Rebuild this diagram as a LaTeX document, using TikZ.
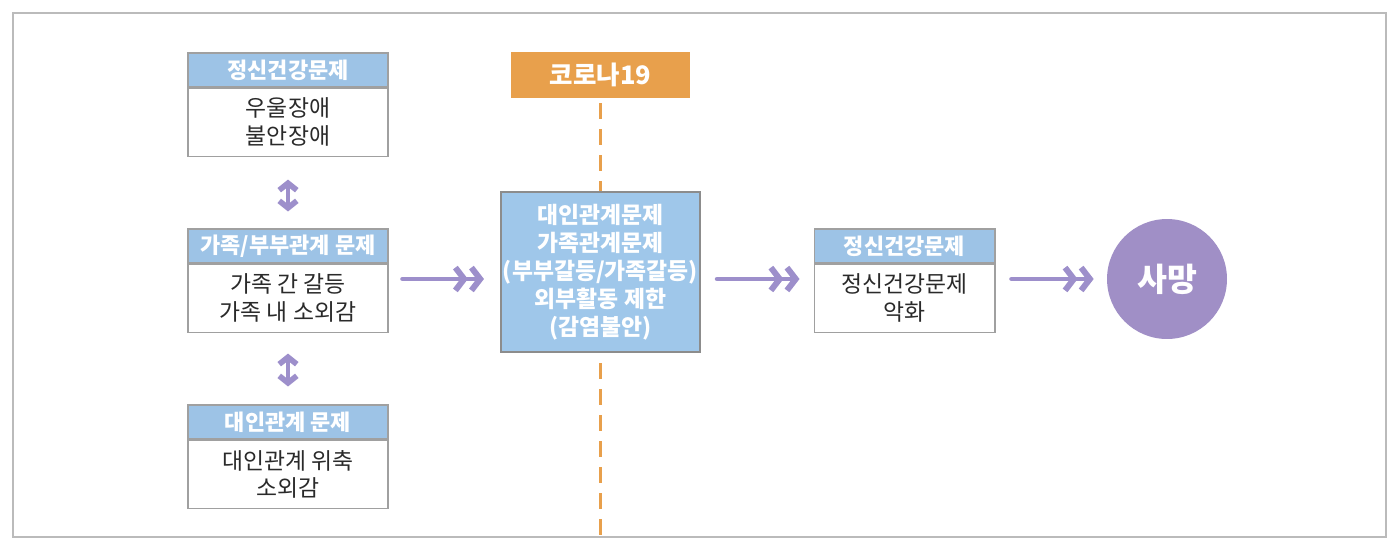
\documentclass[tikz,border=0pt]{standalone}
\usepackage{fontspec}
\setmainfont{Noto Sans CJK KR}
\usepackage{xcolor}
\usetikzlibrary{positioning,arrows.meta}

\definecolor{headblue}{HTML}{9DC3E6}
\definecolor{midblue}{HTML}{9FC7EA}
\definecolor{covidorange}{HTML}{E8A04C}
\definecolor{flowpurple}{HTML}{9D8FCB}
\definecolor{deathpurple}{HTML}{A08FC6}
\definecolor{boxgray}{HTML}{A0A0A0}
\definecolor{framegray}{HTML}{BBBBBB}
\definecolor{textgray}{HTML}{2A2A2A}

\tikzset{
  headbox/.style={draw=boxgray, line width=0.6pt, fill=headblue, text=white,
    minimum width=4cm, minimum height=0.68cm, inner sep=0pt,
    font=\bfseries\fontsize{12.5}{14}\selectfont},
  bodybox/.style={draw=boxgray, line width=0.6pt, fill=white, text=textgray,
    minimum width=4cm, minimum height=1.36cm, inner sep=0pt, align=center,
    font=\fontsize{13}{15.5}\selectfont},
  flow/.style={flowpurple, line width=2.6pt, line cap=round,
    -{Straight Barb[length=5pt,width=13pt,sep=0.3pt,line width=3.4pt]Straight Barb[length=5pt,width=13pt,line width=3.4pt]}},
  updown/.style={flowpurple, line width=2.6pt,
    {Straight Barb[length=4pt,width=10pt,line width=3.2pt]}-{Straight Barb[length=4pt,width=10pt,line width=3.2pt]}}
}

\begin{document}
\begin{tikzpicture}[x=0.02cm,y=-0.02cm]
\useasboundingbox (0,0) rectangle (1399,548);
\draw[framegray, line width=1.2pt] (13,13) rectangle (1386,537);

% left column
\node[headbox] (mhHead) at (288,70) {정신건강문제};
\node[bodybox, below=0pt of mhHead] (mhBody) {우울장애\\불안장애};
\node[headbox] (famHead) at (288,246) {가족/부부관계 문제};
\node[bodybox, below=0pt of famHead] (famBody) {가족 간 갈등\\가족 내 소외감};
\node[headbox] (relHead) at (288,422) {대인관계 문제};
\node[bodybox, below=0pt of relHead] (relBody) {대인관계 위축\\소외감};

\draw[updown, shorten <=0.46cm, shorten >=0.34cm] (mhBody.south) -- (famHead.north);
\draw[updown, shorten <=0.42cm, shorten >=0.36cm] (famBody.south) -- (relHead.north);

% covid and middle box
\node[fill=covidorange, text=white, minimum width=3.58cm, minimum height=0.92cm,
  font=\bfseries\fontsize{14.5}{16}\selectfont] (covid) at (600.5,75) {코로나19};
\coordinate (covidEnd) at (600.5,536);
\draw[covidorange, line width=1.8pt, dash pattern=on 0.32cm off 0.2cm]
  ([yshift=-0.1cm]covid.south) -- (covidEnd);
\node[draw=gray!90, line width=1.2pt, fill=midblue, text=white, align=center,
  minimum width=3.98cm, minimum height=3.2cm, inner sep=0pt,
  font=\bfseries\fontsize{13}{16}\selectfont] (mid) at (600.5,272)
  {대인관계문제\\가족관계문제\\(부부갈등/가족갈등)\\외부활동 제한\\(감염불안)};

% right side
\node[headbox, minimum width=3.62cm] (worseHead) at (904.5,246) {정신건강문제};
\node[bodybox, minimum width=3.62cm, below=0pt of worseHead] (worseBody) {정신건강문제\\악화};
\node[circle, fill=deathpurple, text=white, minimum size=2.4cm,
  font=\bfseries\fontsize{18.5}{20}\selectfont] (death) at (1167,279) {사망};

% arrows
\draw[flow, shorten <=0.28cm, shorten >=0.32cm] (famBody.east |- death) -- (mid.west |- death);
\draw[flow, shorten <=0.32cm, shorten >=0.28cm] (mid.east |- death) -- (worseBody.west |- death);
\draw[flow, shorten <=0.32cm, shorten >=0.26cm] (worseBody.east |- death) -- (death.west);
\end{tikzpicture}
\end{document}
